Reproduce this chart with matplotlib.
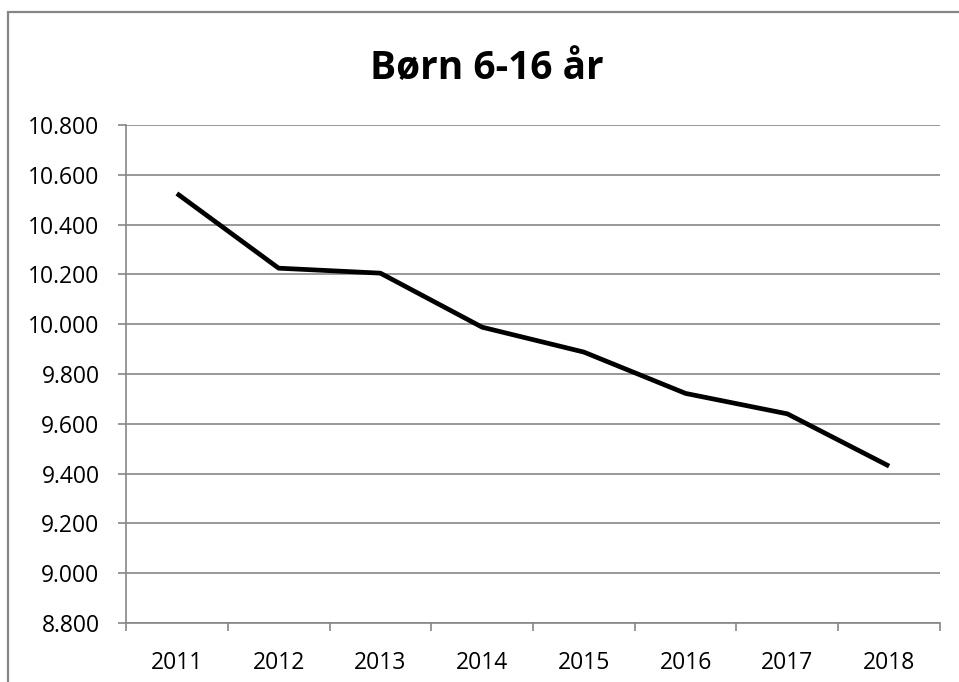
import numpy as np
from matplotlib import pyplot as plt
from matplotlib.patches import Rectangle
from matplotlib.ticker import FuncFormatter, FixedLocator

plt.rcParams['font.family'] = ['Open Sans', 'DejaVu Sans']

years = ['2011', '2012', '2013', '2014', '2015', '2016', '2017', '2018']
born = [10525, 10225, 10205, 9988, 9888, 9722, 9640, 9430]
title = 'Børn 6-16 år'

grey = '#868686'

fig = plt.figure(figsize=(9.59, 6.82), dpi=100)
ax = fig.add_axes([126/959, 1-623/682, (940-126)/959, (623-125)/682])

# outer chart frame (only top and left visible in the picture)
fig.patches.append(Rectangle((8/959, -0.5), 2, 1.5-12/682, transform=fig.transFigure,
                             fill=False, edgecolor=grey, lw=1.6, zorder=0))

x = np.arange(len(years))
ax.plot(x, born, color='black', lw=3.4, solid_capstyle='butt', zorder=3)

ax.set_xlim(-0.5, len(years)-0.5)
ax.set_ylim(8800, 10800)
ax.set_yticks(np.arange(8800, 10801, 200))
ax.yaxis.set_major_formatter(FuncFormatter(lambda v, p: f'{v:,.0f}'.replace(',', '.')))
ax.grid(axis='y', color=grey, lw=1.2, zorder=1)
ax.set_axisbelow(True)

ax.set_xticks(x)
ax.set_xticklabels(years)
ax.xaxis.set_minor_locator(FixedLocator(np.arange(-0.5, len(years), 1)))
ax.tick_params(axis='x', which='major', length=0, pad=20, labelsize=16.5)
ax.tick_params(axis='x', which='minor', length=6, width=1.2, color=grey, direction='out')
ax.tick_params(axis='y', length=6, width=1.2, color=grey, pad=13, labelsize=16.5)

for s in ['top', 'right']:
    ax.spines[s].set_visible(False)
for s in ['left', 'bottom']:
    ax.spines[s].set_color(grey)
    ax.spines[s].set_linewidth(1.2)

fig.text(487/959, 1-68/682, title, ha='center', va='center', fontsize=28, fontweight='bold')

fig.savefig('out.png', dpi=100)
